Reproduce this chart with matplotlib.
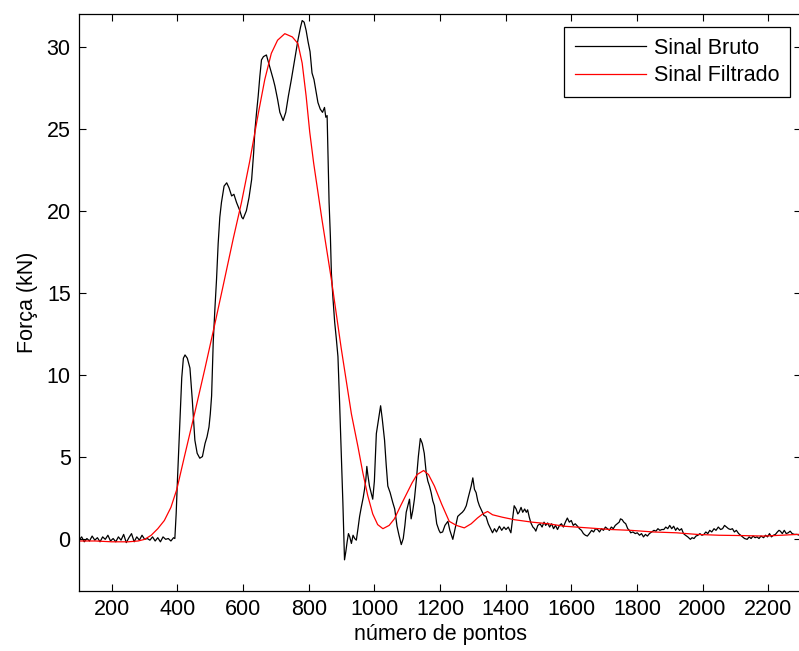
import matplotlib
matplotlib.use("Agg")
import matplotlib.pyplot as plt

plt.rcParams["font.family"] = ["Liberation Sans", "DejaVu Sans"]

# Sinal bruto
raw_x = [100, 108, 116, 124, 132, 140, 148, 156, 164, 172, 180, 188, 196, 204, 212, 220, 228, 236,
         244, 252, 260, 268, 276, 284, 292, 300, 308, 316, 324, 332, 340, 348, 356, 364, 372, 380,
         388, 392,
         396, 400, 405, 410, 413, 418, 423, 430, 438, 445, 453, 460, 468, 476, 484, 490, 496, 500,
         504, 509, 514, 519, 524, 529, 534, 542, 550, 557, 565, 572, 580, 590, 596, 600, 610, 618,
         626, 632, 636, 641, 646, 651, 656, 662, 671, 678, 685, 692, 697, 705, 712, 722, 730, 738,
         747, 757, 767, 775, 780, 786, 792, 798, 804, 810, 816, 822, 828, 835, 842, 848,
         852, 856, 859, 862, 866, 869, 874, 879, 884, 889, 894, 899, 904, 909, 913, 917,
         921, 925, 930, 935, 940, 945, 950, 955, 960, 966, 970, 974, 977, 980, 985, 990, 995, 1000,
         1006, 1012, 1016, 1019, 1024, 1031, 1036, 1041, 1048, 1056, 1062, 1069, 1075, 1082, 1088,
         1093, 1097, 1102, 1107, 1112, 1117, 1122, 1128, 1134, 1140, 1146, 1152, 1158, 1163, 1168,
         1173, 1178, 1183, 1190, 1197, 1201, 1208, 1215, 1224, 1230, 1239, 1246, 1254, 1262, 1268,
         1274, 1280, 1286, 1290, 1295, 1300, 1305, 1310, 1315, 1320, 1327, 1334, 1340, 1347, 1354,
         1360, 1366, 1372, 1381, 1388, 1395, 1401, 1408, 1416, 1420, 1426, 1432, 1437, 1441, 1447,
         1452, 1458, 1463, 1467, 1472, 1477, 1483, 1488, 1492, 1498, 1505, 1511, 1517, 1522, 1528,
         1534, 1540, 1546, 1552, 1558, 1564, 1570, 1576, 1582, 1588, 1594, 1600, 1606, 1612, 1619,
         1625, 1631, 1637, 1643, 1649, 1655, 1662, 1668, 1674, 1680, 1686, 1692, 1698, 1704, 1710,
         1716, 1722, 1728, 1734, 1740, 1746, 1750, 1755, 1760, 1766, 1772, 1777, 1781, 1788, 1795,
         1801, 1808, 1814, 1820, 1826, 1832, 1838, 1845, 1852, 1858, 1864, 1870, 1876, 1882, 1888,
         1894, 1900, 1906, 1912, 1918, 1923, 1930, 1936, 1942, 1948, 1955, 1963, 1968, 1974, 1980,
         1986, 1992, 1998, 2004, 2010, 2016, 2022, 2028, 2035, 2041, 2048, 2055, 2061, 2067, 2073,
         2079, 2085, 2091, 2097, 2103, 2110, 2116, 2122, 2128, 2136, 2142, 2148, 2154, 2160, 2166,
         2172, 2178, 2186, 2192, 2198, 2204, 2210, 2216, 2222, 2228, 2233, 2237, 2243, 2249, 2255,
         2261, 2267, 2273, 2280, 2288, 2295, 2300]
raw_y = [-0.1, 0.1, -0.2, 0.0, -0.15, 0.15, -0.1, 0.05, -0.2, 0.1, -0.05, 0.2, -0.15, 0.0, -0.2, 0.1, -0.1, 0.25,
         -0.25, 0.05, 0.3, -0.2, 0.1, -0.1, 0.2, -0.05, 0.0, -0.1, 0.1, -0.15, 0.05, -0.2, 0.1, -0.05, 0.0, -0.15,
         0.05, 0.0,
         1.5, 3.6, 6.0, 8.5, 9.8, 11.0, 11.2, 11.0, 10.4, 8.5, 6.0, 5.2, 4.9, 5.0, 5.8, 6.2, 6.8, 7.6,
         8.7, 12.0, 14.0, 15.8, 18.0, 19.6, 20.5, 21.5, 21.7, 21.4, 20.9, 21.0, 20.5, 20.0, 19.6, 19.5, 20.0, 20.8,
         21.9, 23.5, 24.9, 26.0, 27.0, 28.2, 29.2, 29.4, 29.5, 29.0, 28.5, 28.0, 27.6, 26.8, 26.0, 25.5, 26.0, 27.0,
         28.0, 29.2, 30.4, 31.2, 31.6, 31.5, 31.0, 30.3, 29.7, 28.4, 28.0, 27.3, 26.6, 26.2, 26.0, 26.3,
         25.7, 25.8, 23.0, 20.5, 18.4, 16.2, 14.6, 13.2, 12.2, 11.1, 8.3, 5.2, 2.2, -1.3, -0.8, -0.2,
         0.3, 0.1, -0.3, 0.2, 0.0, -0.1, 0.6, 1.35, 1.9, 2.5, 3.0, 3.6, 4.4, 3.9, 3.2, 2.8, 2.4, 3.5,
         6.4, 7.2, 7.7, 8.1, 7.3, 6.0, 4.5, 3.2, 2.8, 2.2, 1.8, 0.75, 0.2, -0.37, 0.0,
         0.8, 1.6, 2.0, 2.4, 1.2, 1.7, 2.4, 3.6, 5.0, 6.1, 5.8, 5.2, 4.0, 3.5, 3.2,
         2.8, 2.3, 2.0, 0.9, 0.5, 0.35, 0.4, 0.8, 1.05, 0.5, -0.05, 0.6, 1.35, 1.5, 1.6,
         1.75, 2.0, 2.5, 2.8, 3.2, 3.7, 3.0, 2.8, 2.3, 2.0, 1.7, 1.4, 1.35, 0.9, 0.6,
         0.35, 0.6, 0.4, 0.75, 0.5, 0.7, 0.55, 0.7, 0.35, 1.0, 2.0, 1.8, 1.5, 1.6, 1.9,
         1.6, 1.8, 1.6, 1.75, 1.3, 0.95, 0.7, 0.6, 0.45, 0.8, 0.9, 0.7, 1.0, 0.8, 0.95,
         0.7, 0.9, 0.6, 0.8, 0.55, 0.8, 0.9, 0.7, 1.0, 1.25, 1.0, 1.1, 0.8, 0.9, 0.75,
         0.6, 0.5, 0.3, 0.2, 0.15, 0.3, 0.5, 0.4, 0.6, 0.55, 0.4, 0.6, 0.5, 0.7, 0.6,
         0.5, 0.7, 0.6, 0.8, 0.9, 1.0, 1.2, 1.15, 1.0, 0.9, 0.6, 0.5, 0.35, 0.4, 0.3,
         0.35, 0.2, 0.3, 0.1, 0.25, 0.15, 0.3, 0.4, 0.5, 0.45, 0.6, 0.5, 0.55, 0.55, 0.7,
         0.6, 0.8, 0.6, 0.75, 0.5, 0.65, 0.5, 0.6, 0.3, 0.2, 0.1, -0.05, 0.05, 0.0, 0.15,
         0.2, 0.3, 0.2, 0.25, 0.4, 0.3, 0.5, 0.4, 0.6, 0.5, 0.7, 0.55, 0.6, 0.8, 0.7,
         0.6, 0.55, 0.6, 0.4, 0.5, 0.3, 0.2, 0.1, 0.0, -0.05, 0.1, 0.0, 0.15, 0.05, 0.1,
         0.0, 0.15, 0.05, 0.2, 0.1, 0.3, 0.1, 0.2, 0.25, 0.4, 0.5, 0.45, 0.3, 0.5, 0.3,
         0.35, 0.45, 0.3, 0.25, 0.25, 0.2, 0.25]

# Sinal filtrado
filt_x = [100, 150, 200, 250, 280, 300, 320, 340, 360, 380, 398, 420, 453, 484, 514, 540, 570, 595,
          620, 646, 666, 686, 705, 727, 750, 767, 780, 792, 803, 815, 840, 869, 899, 930, 950, 965,
          980, 995, 1010, 1026, 1045, 1061, 1080, 1100, 1115, 1130, 1150,
          1165, 1183, 1205, 1228, 1250, 1274, 1295, 1314, 1330, 1345, 1360, 1390, 1426, 1480, 1530,
          1578, 1650, 1720, 1781, 1850, 1920, 1984, 2050, 2120, 2186, 2240, 2288, 2300]
filt_y = [-0.15, -0.15, -0.2, -0.2, -0.15, -0.05, 0.2, 0.6, 1.1, 1.9, 3.0, 4.9, 7.7, 10.4, 13.1, 15.5, 18.3, 20.5,
          23.0, 25.9, 28.0, 29.6, 30.4, 30.8, 30.6, 30.2, 29.0, 27.0, 24.8, 22.9, 19.5, 15.8, 11.6, 7.6, 5.6, 4.0,
          2.6, 1.5, 0.85, 0.6, 0.8, 1.2, 2.0, 2.8, 3.4, 3.9, 4.15,
          3.9, 3.2, 2.1, 1.05, 0.8, 0.65, 0.9, 1.25, 1.5, 1.65, 1.45, 1.3, 1.15, 1.0, 0.9,
          0.75, 0.65, 0.55, 0.5, 0.4, 0.35, 0.25, 0.2, 0.18, 0.15, 0.2, 0.25, 0.25]

x_ticks = list(range(200, 2201, 200))
y_ticks = [0, 5, 10, 15, 20, 25, 30]

fig = plt.figure(figsize=(7.99, 6.51), dpi=100)
ax = fig.add_axes([0.0989, 0.0922, 0.9036, 0.8863])

ax.plot(raw_x, raw_y, color="black", lw=0.9, label="Sinal Bruto")
ax.plot(filt_x, filt_y, color="red", lw=0.9, label="Sinal Filtrado")

ax.set_xlim(100, 2300)
ax.set_ylim(-3.2, 32)
ax.set_xticks(x_ticks)
ax.set_yticks(y_ticks)
ax.tick_params(direction="in", top=True, right=True, length=5, width=0.8,
               labelsize=15.5, pad=6)
for sp in ax.spines.values():
    sp.set_linewidth(0.9)

ax.set_xlabel("número de pontos", fontsize=15.5, labelpad=3)
ax.set_ylabel("Força (kN)", fontsize=15.5, labelpad=6)

leg = ax.legend(loc="upper right", bbox_to_anchor=(790 / 799, 1 - 27 / 651),
                bbox_transform=fig.transFigure, borderaxespad=0, fontsize=15.5,
                fancybox=False, framealpha=1, edgecolor="black",
                handlelength=3.3, handletextpad=0.35, labelspacing=0.3, borderpad=0.5)
leg.get_frame().set_linewidth(0.9)

fig.savefig("out.png", dpi=100)
